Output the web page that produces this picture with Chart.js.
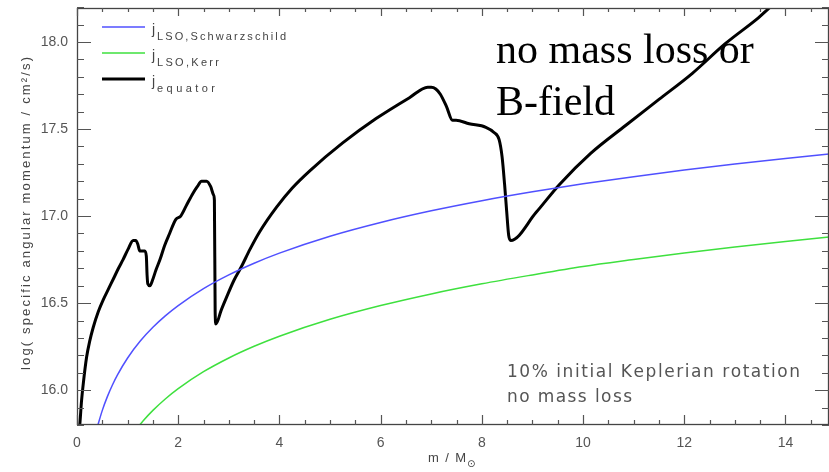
<!DOCTYPE html>
<html>
<head>
<meta charset="utf-8">
<script src="https://cdn.jsdelivr.net/npm/chart.js@4.4.1/dist/chart.umd.min.js"></script>
<style>
html,body{margin:0;padding:0;background:#fff;}
canvas{display:block;}
</style>
</head>
<body>
<canvas id="c" width="829" height="472" style="width:829px;height:472px"></canvas>
<script>
// ---- data ----
const schwX = [0.4, 0.5, 0.6, 0.7, 0.8, 1.0, 1.25, 1.5, 1.75, 2.0, 2.5, 3.0, 3.5, 4.0, 5.0, 6.0, 7.0, 8.0, 9.0, 10.0, 11.0, 12.0, 13.0, 14.0, 15.0];
const schwY = [15.787, 15.884, 15.963, 16.030, 16.088, 16.185, 16.282, 16.361, 16.428, 16.486, 16.583, 16.662, 16.729, 16.787, 16.884, 16.963, 17.030, 17.088, 17.139, 17.185, 17.226, 17.264, 17.299, 17.331, 17.361];

const kerrX = [1.2, 1.3, 1.5, 1.75, 2.0, 2.5, 3.0, 3.5, 4.0, 5.0, 6.0, 7.0, 8.0, 9.0, 10.0, 11.0, 12.0, 13.0, 14.0, 15.0];
const kerrY = [15.787, 15.822, 15.884, 15.951, 16.009, 16.106, 16.185, 16.252, 16.310, 16.407, 16.486, 16.553, 16.611, 16.662, 16.710, 16.750, 16.788, 16.822, 16.854, 16.884];

const eqX = [0.04, 0.06, 0.09, 0.125, 0.19, 0.25, 0.32, 0.42, 0.52, 0.62, 0.72, 0.82, 0.91, 1.01, 1.11, 1.16, 1.20, 1.24, 1.34, 1.37, 1.385, 1.40, 1.44, 1.49, 1.56, 1.64, 1.73, 1.83, 1.95, 2.05, 2.16, 2.29, 2.38, 2.46, 2.56, 2.64, 2.70, 2.715, 2.73, 2.745, 2.85, 2.95, 3.10, 3.25, 3.42, 3.61, 3.94, 4.25, 4.60, 5.25, 5.91, 6.57, 6.93, 7.00, 7.09, 7.18, 7.30, 7.42, 7.49, 7.75, 8.08, 8.24, 8.34, 8.40, 8.45, 8.49, 8.53, 8.57, 9.07, 9.53, 10.15, 10.84, 11.50, 12.16, 12.81, 13.47, 13.70, 14.00];
const eqY = [15.75, 15.82, 15.94, 16.04, 16.19, 16.28, 16.36, 16.45, 16.52, 16.58, 16.64, 16.70, 16.75, 16.81, 16.86, 16.86, 16.84, 16.80, 16.80, 16.77, 16.66, 16.61, 16.60, 16.63, 16.69, 16.75, 16.83, 16.90, 16.98, 17.00, 17.06, 17.13, 17.17, 17.20, 17.20, 17.17, 17.12, 17.09, 16.45, 16.38, 16.46, 16.53, 16.63, 16.71, 16.81, 16.91, 17.05, 17.16, 17.26, 17.42, 17.56, 17.68, 17.74, 17.74, 17.73, 17.70, 17.63, 17.55, 17.55, 17.53, 17.51, 17.48, 17.44, 17.34, 17.18, 17.03, 16.89, 16.86, 17.02, 17.18, 17.36, 17.52, 17.67, 17.82, 17.99, 18.14, 18.20, 18.27];

const xMajorTicks = [0, 2, 4, 6, 8, 10, 12, 14];
const yMajorTicks = [16.0, 16.5, 17.0, 17.5, 18.0];

const seriesNames = ['LSO,Schwarzschild', 'LSO,Kerr', 'equator'];
const xTitle = 'm / M';
const yTitle = 'log( specific angular momentum / cm\u00B2/s)';
const noteLines = ['10% initial Keplerian rotation', 'no mass loss'];
const bigLines = ['no mass loss or', 'B-field'];

const X_MIN = 0, X_MAX = 14.86, Y_MIN = 15.8, Y_MAX = 18.195;

function pts(xs, ys){ return xs.map((x,i)=>({x:x, y:ys[i]})); }

const colors = ['#5050ff', '#3ee03e', '#000000'];

function spacedText(ctx, text, x, y, width){
  const chars = Array.from(text);
  let total = 0;
  const ws = chars.map(c=>{const w=ctx.measureText(c).width; total+=w; return w;});
  const gap = chars.length>1 ? (width-total)/(chars.length-1) : 0;
  let cx = x;
  chars.forEach((c,i)=>{ ctx.fillText(c, cx, y); cx += ws[i] + gap; });
}

const decor = {
  id: 'decor',
  afterDatasetsDraw(chart){
    const ctx = chart.ctx;
    const xs = chart.scales.x, ys = chart.scales.y;
    const a = chart.chartArea;
    ctx.save();
    ctx.strokeStyle = '#444';
    ctx.lineWidth = 1.3;
    ctx.strokeRect(a.left+0.5, a.top+0.5, a.right-a.left-1, a.bottom-a.top-1);
    ctx.strokeStyle = '#555';
    ctx.lineWidth = 1.2;
    ctx.beginPath();
    for(let v=0; v<=X_MAX+1e-9; v+=0.5){
      const px = Math.round(xs.getPixelForValue(v))+0.5;
      const major = Math.abs(v/2-Math.round(v/2))<1e-6;
      const L = major ? 10 : 5;
      ctx.moveTo(px, a.bottom); ctx.lineTo(px, a.bottom-L);
      ctx.moveTo(px, a.top); ctx.lineTo(px, a.top+L*0.8);
    }
    for(let k=158; k<=182; k++){
      const v = k/10;
      const py = Math.round(ys.getPixelForValue(v))+0.5;
      const major = (k%5===0);
      const L = major ? 14 : 7;
      ctx.moveTo(a.left, py); ctx.lineTo(a.left+L, py);
      ctx.moveTo(a.right, py); ctx.lineTo(a.right-L, py);
    }
    ctx.stroke();
    ctx.restore();
  },
  afterDraw(chart){
    const ctx = chart.ctx;
    ctx.save();
    const ly = [27, 53, 79];
    for(let i=0;i<3;i++){
      ctx.strokeStyle = colors[i];
      ctx.lineWidth = i===2 ? 3 : 1.5;
      ctx.beginPath(); ctx.moveTo(102, ly[i]); ctx.lineTo(145, ly[i]); ctx.stroke();
      ctx.fillStyle = '#444';
      ctx.textBaseline = 'alphabetic';
      ctx.textAlign = 'left';
      ctx.font = '14px "Liberation Sans", Arial, sans-serif';
      ctx.fillText('j', 152, ly[i]+7);
      ctx.font = '11px "Liberation Sans", Arial, sans-serif';
      const w = [129, 62, 58][i];
      spacedText(ctx, seriesNames[i], 157, ly[i]+13, w);
    }
    ctx.fillStyle = '#444';
    ctx.save();
    ctx.translate(30, 370);
    ctx.rotate(-Math.PI/2);
    ctx.font = '13px "Liberation Sans", Arial, sans-serif';
    spacedText(ctx, yTitle, 0, 0, 313);
    ctx.restore();
    ctx.font = '13px "Liberation Sans", Arial, sans-serif';
    ctx.fillStyle = '#444';
    spacedText(ctx, xTitle, 428, 462, 38);
    ctx.font = '10px "DejaVu Sans", sans-serif';
    ctx.fillText('\u2299', 467, 467);
    ctx.fillStyle = '#555';
    ctx.font = '17px "DejaVu Sans", sans-serif';
    spacedText(ctx, noteLines[0], 507, 377, 293);
    spacedText(ctx, noteLines[1], 507, 402, 125);
    ctx.fillStyle = '#000';
    ctx.font = '42px "Liberation Serif", "Times New Roman", serif';
    ctx.fillText(bigLines[0], 496, 63);
    ctx.fillText(bigLines[1], 496, 115);
    ctx.restore();
  }
};

new Chart(document.getElementById('c'), {
  type: 'line',
  data: {
    datasets: [
      {label: seriesNames[0], data: pts(schwX, schwY), borderColor: colors[0], borderWidth: 1.5, pointRadius: 0, cubicInterpolationMode: 'monotone'},
      {label: seriesNames[1], data: pts(kerrX, kerrY), borderColor: colors[1], borderWidth: 1.5, pointRadius: 0, cubicInterpolationMode: 'monotone'},
      {label: seriesNames[2], data: pts(eqX, eqY), borderColor: colors[2], borderWidth: 3, pointRadius: 0, cubicInterpolationMode: 'monotone', borderJoinStyle: 'round'}
    ]
  },
  options: {
    responsive: false,
    animation: false,
    devicePixelRatio: 1,
    layout: {padding: {top: 8, right: 0, left: 0, bottom: 0}},
    plugins: {legend: {display: false}, tooltip: {enabled: false}},
    scales: {
      x: {
        type: 'linear', min: X_MIN, max: X_MAX,
        afterFit(s){ s.height = 47; s.paddingLeft = 0; s.paddingRight = 0; },
        grid: {display: false, drawTicks: false},
        border: {display: false},
        afterBuildTicks(s){ s.ticks = xMajorTicks.map(v=>({value:v})); },
        ticks: {color: '#555', font: {family: '"Liberation Sans", Arial, sans-serif', size: 14}, padding: 10, maxRotation: 0, callback: v=>String(v)}
      },
      y: {
        type: 'linear', min: Y_MIN, max: Y_MAX,
        afterFit(s){ s.width = 77; s.paddingTop = 0; s.paddingBottom = 0; },
        grid: {display: false, drawTicks: false},
        border: {display: false},
        afterBuildTicks(s){ s.ticks = yMajorTicks.map(v=>({value:v})); },
        ticks: {color: '#555', font: {family: '"Liberation Sans", Arial, sans-serif', size: 14}, padding: 9, callback: v=>Number(v).toFixed(1)}
      }
    }
  },
  plugins: [decor]
});
</script>
</body>
</html>
